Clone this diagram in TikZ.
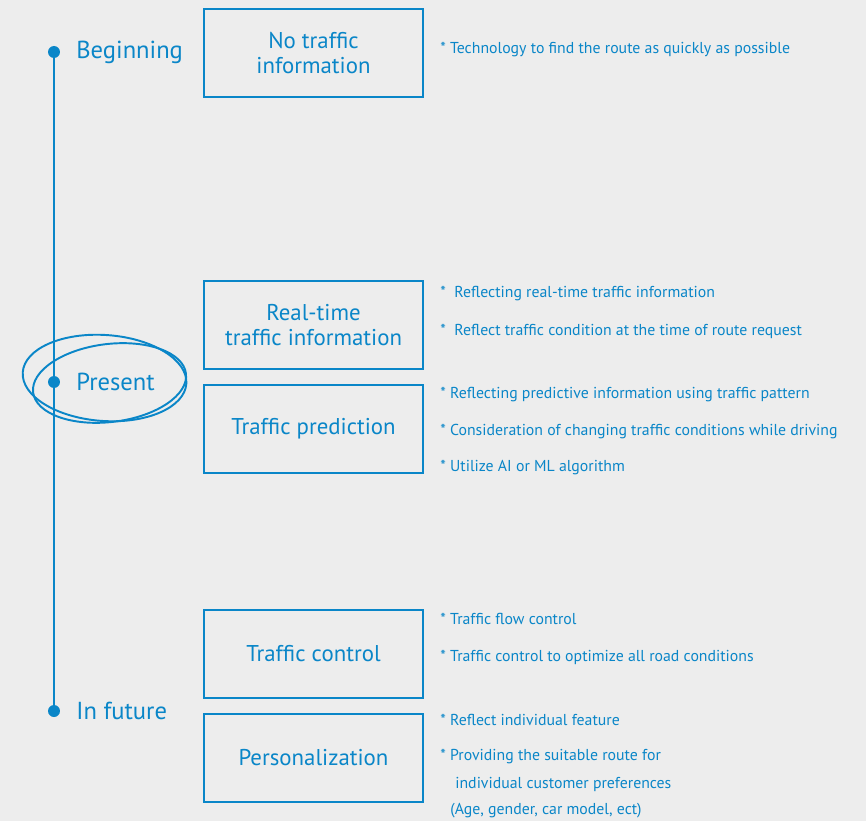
\documentclass[tikz,border=0pt]{standalone}
\usepackage{fontspec}
\setmainfont{PT Sans}
\usepackage{tikz}
\usetikzlibrary{calc,positioning}
\definecolor{RouteBlue}{HTML}{0A86C8}
\definecolor{RouteBack}{HTML}{EDEDED}
\tikzset{
  stagebox/.style={draw=RouteBlue,line width=1.6pt,fill=none,align=center,
    minimum width=4.38cm,minimum height=1.76cm,inner sep=2pt,
    font=\fontsize{13}{14.5}\selectfont,text=RouteBlue},
  stagedot/.style={circle,fill=RouteBlue,inner sep=0pt,minimum size=0.24cm},
  stagelabel/.style={anchor=west,font=\fontsize{14}{16}\selectfont,text=RouteBlue,inner sep=0pt},
  note/.style={anchor=west,font=\fontsize{9}{11}\selectfont,text=RouteBlue,inner sep=0pt},
  timeline/.style={draw=RouteBlue,line width=1.4pt},
  loop/.style={draw=RouteBlue,line width=1.1pt}
}

\begin{document}
\begin{tikzpicture}[x=0.02cm,y=-0.02cm]
  \fill[RouteBack] (0,0) rectangle (866,821);
  \useasboundingbox (0,0) rectangle (866,821);

  % timeline
  \node[stagedot] (begin) at (54,52) {};
  \node[stagedot] (now) at (54,382) {};
  \node[stagedot] (future) at (54,711) {};
  \draw[timeline] (begin.center) -- (future.center);

  \node[stagelabel] (beginlbl) at (76,52) {Beginning};
  \node[stagelabel] (nowlbl) at (76,382) {Present};
  \node[stagelabel] (futurelbl) at (76,711) {In future};

  % hand drawn loop round the present stage
  \draw[loop] ($(nowlbl.center)+(-11,-4)$) ellipse [x radius=82, y radius=43, rotate=-4];
  \draw[loop] ($(nowlbl.center)+(-6,1)$) ellipse [x radius=77, y radius=39, rotate=7];

  % stages
  \node[stagebox] (noinfo) at (313.5,53) {No traffic\\information};
  \node[stagebox] (realtime) at (313.5,325) {Real-time\\traffic information};
  \node[stagebox] (predict) at (313.5,429) {Traffic prediction};
  \node[stagebox] (control) at (313.5,654) {Traffic control};
  \node[stagebox] (personal) at (313.5,758) {Personalization};

  % notes
  \node[note] (n1) at (440,50) {* Technology to find the route as quickly as possible};
  \node[note] (n2) at (440,294) {*\ \ Reflecting real-time traffic information};
  \node[note] (n3) at (440,331) {*\ \ Reflect traffic condition at the time of route request};
  \node[note] (n4) at (440,395) {* Reflecting predictive information using traffic pattern};
  \node[note] (n5) at (440,432) {* Consideration of changing traffic conditions while driving};
  \node[note] (n6) at (440,468) {* Utilize AI or ML algorithm};
  \node[note] (n7) at (440,619) {* Traffic flow control};
  \node[note] (n8) at (440,657) {* Traffic control to optimize all road conditions};
  \node[note] (n9) at (440,720) {* Reflect individual feature};
  \node[note] (n10) at (440,757) {* Providing the suitable route for};
  \node[note] (n11) at (455,784) {individual customer preferences};
  \node[note] (n12) at (450,811) {(Age, gender, car model, ect)};

\end{tikzpicture}
\end{document}
